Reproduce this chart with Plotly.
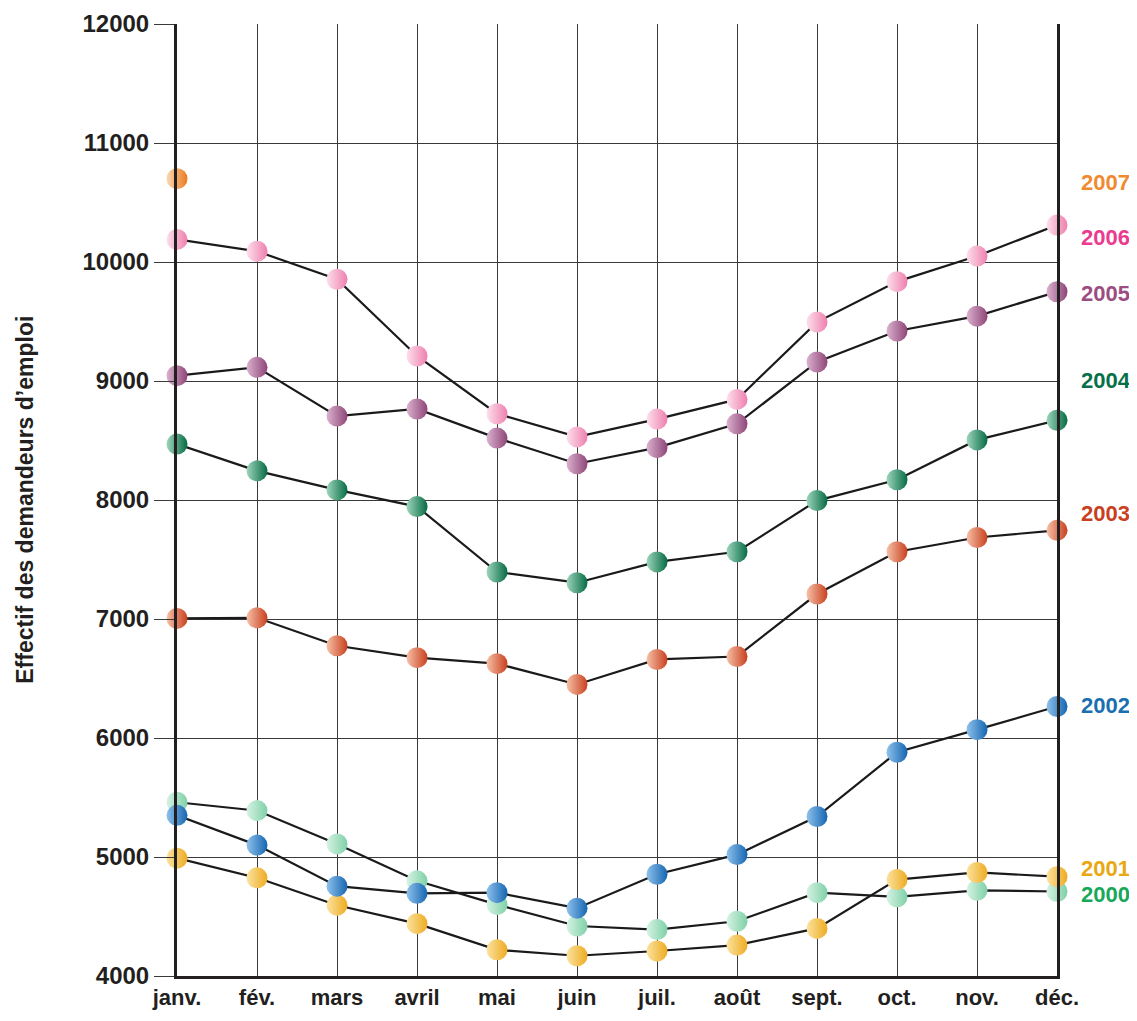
import plotly.graph_objects as go

months = ["janv.", "fév.", "mars", "avril", "mai", "juin", "juil.", "août", "sept.", "oct.", "nov.", "déc."]

y2000 = [5460, 5390, 5110, 4800, 4600, 4420, 4390, 4460, 4700, 4665, 4720, 4710]
y2001 = [4990, 4825, 4595, 4440, 4220, 4170, 4210, 4260, 4400, 4810, 4870, 4835]
y2002 = [5350, 5100, 4755, 4695, 4700, 4570, 4855, 5020, 5340, 5880, 6070, 6265]
y2003 = [7005, 7010, 6775, 6675, 6625, 6450, 6660, 6685, 7210, 7565, 7685, 7745]
y2004 = [8470, 8245, 8085, 7945, 7395, 7305, 7480, 7565, 7995, 8170, 8505, 8670]
y2005 = [9045, 9115, 8705, 8765, 8520, 8305, 8440, 8640, 9160, 9420, 9545, 9750]
y2006 = [10190, 10090, 9855, 9210, 8725, 8530, 8680, 8845, 9495, 9835, 10050, 10310]
y2007 = [10700]

years = ["2000", "2001", "2002", "2003", "2004", "2005", "2006", "2007"]
series = [y2000, y2001, y2002, y2003, y2004, y2005, y2006, y2007]
# (light left colour, dark right colour, label colour)
colors = [
    ("#d6f3e4", "#7fd0a8", "#17a85a"),
    ("#fbe3a0", "#eeab22", "#e9a812"),
    ("#8fc2ec", "#1565b0", "#1a6fb0"),
    ("#f6c1a8", "#c8401e", "#c8401e"),
    ("#9fd6bd", "#056b42", "#087048"),
    ("#dbb3cf", "#8e4478", "#9c4d80"),
    ("#fde0ec", "#ee7fae", "#ec3a8e"),
    ("#fbd9b3", "#ec7a1c", "#f08a30"),
]
label_y = [4685, 4900, 6274, 7886, 9002, 9732, 10202, 10672]
y_ticks = [4000, 5000, 6000, 7000, 8000, 9000, 10000, 11000, 12000]

FONT = "Liberation Sans, Arial, sans-serif"

fig = go.Figure()

# lines first (under all markers)
for name, vals in zip(years, series):
    if len(vals) > 1:
        fig.add_trace(go.Scatter(
            x=months[:len(vals)], y=vals, mode="lines",
            line=dict(color="#1a1a1a", width=2.2),
            showlegend=False, hoverinfo="skip", cliponaxis=False))

for name, vals, (c1, c2, _) in zip(years, series, colors):
    fig.add_trace(go.Scatter(
        x=months[:len(vals)], y=vals, mode="markers", name=name,
        marker=dict(size=21, color=c1, line=dict(width=0),
                    gradient=dict(type="horizontal", color=c2)),
        showlegend=False, cliponaxis=False))

for name, ly, (_, _, tc) in zip(years, label_y, colors):
    fig.add_annotation(
        x=1.025, xref="paper", y=ly, yref="y", text="<b>%s</b>" % name,
        showarrow=False, xanchor="left", yanchor="middle",
        font=dict(family=FONT, size=22, color=tc))

fig.add_annotation(
    x=-0.173, xref="paper", y=0.5, yref="paper", textangle=-90,
    text="<b>Effectif des demandeurs d’emploi</b>", showarrow=False,
    xanchor="center", yanchor="middle",
    font=dict(family=FONT, size=23, color="#231f20"))

# page body has an 8px margin: figure kept inside the window
fig.update_layout(
    width=1121, height=1005,
    margin=dict(l=169, r=72, t=16, b=37),
    plot_bgcolor="white", paper_bgcolor="white",
    font=dict(family=FONT, color="#231f20"),
    xaxis=dict(
        type="category", range=[0, 11], showgrid=True, gridcolor="#3a3a3a",
        gridwidth=1, showline=True, linecolor="#231f20", linewidth=3,
        ticks="", ticklabelstandoff=0, automargin=False,
        tickfont=dict(size=22, weight="bold"), zeroline=False),
    yaxis=dict(
        range=[4000, 12000], tickvals=y_ticks, ticktext=[str(v) for v in y_ticks],
        showgrid=True, gridcolor="#3a3a3a", automargin=False,
        gridwidth=1, showline=True, linecolor="#231f20", linewidth=3,
        mirror=True, ticks="outside", ticklen=20, tickcolor="#3a3a3a",
        tickwidth=1.2, tickfont=dict(size=24, weight="bold"),
        zeroline=False),
)

fig.write_html("out.html")
